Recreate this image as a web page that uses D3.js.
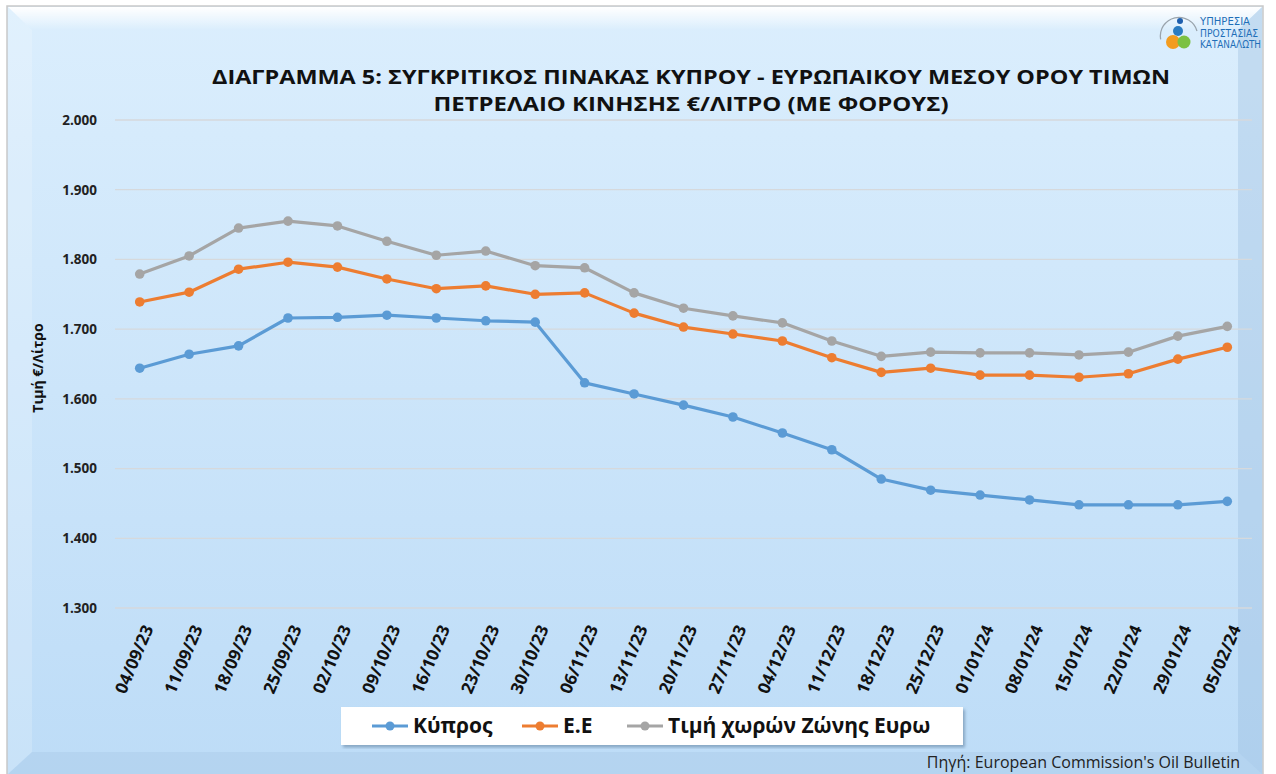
<!DOCTYPE html>
<html>
<head>
<meta charset="utf-8">
<script src="https://cdn.jsdelivr.net/npm/d3@7"></script>
<style>
  body { margin: 0; background: #ffffff; }
  svg { display: block; font-family: "Open Sans", "Liberation Sans", sans-serif; }
</style>
</head>
<body>
<svg id="chart" width="1276" height="774"></svg>
<script>
// data
var dates = ["04/09/23", "11/09/23", "18/09/23", "25/09/23", "02/10/23", "09/10/23", "16/10/23",
    "23/10/23", "30/10/23", "06/11/23", "13/11/23", "20/11/23", "27/11/23", "04/12/23", "11/12/23",
    "18/12/23", "25/12/23", "01/01/24", "08/01/24", "15/01/24", "22/01/24", "29/01/24", "05/02/24"];
var cyprus = [1.644, 1.664, 1.676, 1.716, 1.717, 1.720, 1.716, 1.712, 1.710, 1.623, 1.607, 1.591,
    1.574, 1.551, 1.527, 1.485, 1.469, 1.462, 1.455, 1.448, 1.448, 1.448, 1.453];
var eu = [1.739, 1.753, 1.786, 1.796, 1.789, 1.772, 1.758, 1.762, 1.750, 1.752, 1.723, 1.703,
    1.693, 1.683, 1.659, 1.638, 1.644, 1.634, 1.634, 1.631, 1.636, 1.657, 1.674];
var euroZone = [1.779, 1.805, 1.845, 1.855, 1.848, 1.826, 1.806, 1.812, 1.791, 1.788, 1.752, 1.730,
    1.719, 1.709, 1.683, 1.661, 1.667, 1.666, 1.666, 1.663, 1.667, 1.690, 1.704];
var seriesNames = ["Κύπρος", "Ε.Ε", "Τιμή χωρών Ζώνης Ευρω"];
var seriesColors = ["#5b9bd5", "#ed7d31", "#a5a5a5"];
var yTicks = [1.3, 1.4, 1.5, 1.6, 1.7, 1.8, 1.9, 2.0];

var svg = d3.select("#chart");
var defs = svg.append("defs");

// background panel
var bg = defs.append("linearGradient").attr("id", "bgGrad").attr("x1", 0).attr("y1", 0).attr("x2", 0).attr("y2", 1);
bg.append("stop").attr("offset", "0%").attr("stop-color", "#dbeefd");
bg.append("stop").attr("offset", "100%").attr("stop-color", "#bddcf7");
var topBev = defs.append("linearGradient").attr("id", "topBev").attr("x1", 0).attr("y1", 0).attr("x2", 0).attr("y2", 1);
topBev.append("stop").attr("offset", "0%").attr("stop-color", "#ffffff").attr("stop-opacity", 1);
topBev.append("stop").attr("offset", "100%").attr("stop-color", "#ffffff").attr("stop-opacity", 0);

svg.append("rect").attr("x", 7).attr("y", 6).attr("width", 1256).attr("height", 770)
    .attr("fill", "url(#bgGrad)").attr("stroke", "#c9c9c9").attr("stroke-width", 1.5);
// bevels
svg.append("polygon").attr("points", "8,7 1262,7 1238,30 32,30").attr("fill", "url(#topBev)");
svg.append("polygon").attr("points", "8,7 32,30 32,752 8,774").attr("fill", "#ffffff").attr("opacity", 0.18);
svg.append("polygon").attr("points", "1262,7 1238,30 1238,752 1262,774").attr("fill", "#8fb4d6").attr("opacity", 0.3);
svg.append("polygon").attr("points", "32,752 1238,752 1262,774 8,774").attr("fill", "#8fb4d6").attr("opacity", 0.2);

// scales
var x = d3.scalePoint().domain(dates).range([115, 1252]).padding(0.5);
var y = d3.scaleLinear().domain([1.3, 2.0]).range([608, 120]);

// gridlines
svg.append("g").selectAll("line").data(yTicks).join("line")
    .attr("x1", 115).attr("x2", 1252)
    .attr("y1", function(d) { return y(d); }).attr("y2", function(d) { return y(d); })
    .attr("stroke", "#d6d9dc").attr("stroke-width", 1.3);

// y axis
var yAxis = svg.append("g").attr("transform", "translate(97,0)")
    .call(d3.axisLeft(y).tickValues(yTicks).tickSize(0).tickPadding(0)
        .tickFormat(function(d) { return d3.format(".3f")(d); }));
yAxis.select(".domain").remove();
yAxis.selectAll("text").attr("font-size", 13.5).attr("font-weight", "bold").attr("fill", "#222")
    .attr("font-family", "Open Sans, sans-serif");

svg.append("text").attr("transform", "translate(43,368) rotate(-90)")
    .attr("text-anchor", "middle").attr("font-size", 14).attr("font-weight", "bold").attr("fill", "#111")
    .text("Τιμή €/Λίτρο");

// x axis
var xAxis = svg.append("g").attr("transform", "translate(0,622)")
    .call(d3.axisBottom(x).tickSize(0).tickPadding(0));
xAxis.select(".domain").remove();
xAxis.selectAll("text")
    .attr("font-size", 17).attr("font-weight", "bold").attr("fill", "#111")
    .attr("font-family", "Open Sans, sans-serif")
    .attr("text-anchor", "end").attr("dy", "0.35em")
    .attr("transform", "translate(8,4) rotate(-67)");

// series
var allSeries = [cyprus, eu, euroZone];
var line = d3.line().x(function(d, i) { return x(dates[i]); }).y(function(d) { return y(d); });
allSeries.forEach(function(vals, k) {
    var g = svg.append("g");
    g.append("path").datum(vals).attr("d", line)
        .attr("fill", "none").attr("stroke", seriesColors[k]).attr("stroke-width", 3.2)
        .attr("stroke-linejoin", "round");
    g.selectAll("circle").data(vals).join("circle")
        .attr("cx", function(d, i) { return x(dates[i]); })
        .attr("cy", function(d) { return y(d); })
        .attr("r", 4.8).attr("fill", seriesColors[k]);
});

// title
var title = svg.append("g").attr("font-weight", "bold").attr("fill", "#111").attr("text-anchor", "middle");
title.append("text").attr("x", 691).attr("y", 84).attr("font-size", 20)
    .attr("textLength", 958).attr("lengthAdjust", "spacingAndGlyphs")
    .text("ΔΙΑΓΡΑΜΜΑ 5: ΣΥΓΚΡΙΤΙΚΟΣ ΠΙΝΑΚΑΣ ΚΥΠΡΟΥ - ΕΥΡΩΠΑΙΚΟΥ ΜΕΣΟΥ ΟΡΟΥ ΤΙΜΩΝ");
title.append("text").attr("x", 691).attr("y", 111).attr("font-size", 20)
    .attr("textLength", 515).attr("lengthAdjust", "spacingAndGlyphs")
    .text("ΠΕΤΡΕΛΑΙΟ ΚΙΝΗΣΗΣ €/ΛΙΤΡΟ (ΜΕ ΦΟΡΟΥΣ)");

// legend
defs.append("filter").attr("id", "shadow").append("feDropShadow")
    .attr("dx", 2).attr("dy", 2.5).attr("stdDeviation", 1.8).attr("flood-color", "#5a7a98").attr("flood-opacity", 0.55);
svg.append("rect").attr("x", 341).attr("y", 707).attr("width", 622).attr("height", 38)
    .attr("fill", "#ffffff").attr("filter", "url(#shadow)");
var legendX = [372, 522, 627];
var legend = svg.append("g").selectAll("g").data(seriesNames).join("g")
    .attr("transform", function(d, i) { return "translate(" + legendX[i] + ",726)"; });
legend.append("line").attr("x1", 0).attr("x2", 36).attr("y1", 0).attr("y2", 0)
    .attr("stroke", function(d, i) { return seriesColors[i]; }).attr("stroke-width", 3.2);
legend.append("circle").attr("cx", 18).attr("cy", 0).attr("r", 4.5)
    .attr("fill", function(d, i) { return seriesColors[i]; });
legend.append("text").attr("x", 41).attr("y", 0).attr("dy", "0.35em")
    .attr("font-size", 21).attr("font-weight", "bold").attr("fill", "#111")
    .text(function(d) { return d; });

// source note
svg.append("text").attr("x", 1240).attr("y", 768).attr("text-anchor", "end")
    .attr("font-size", 16).attr("fill", "#222")
    .text("Πηγή: European Commission's Oil Bulletin");

// logo
var logo = svg.append("g").attr("transform", "translate(1179,36)");
logo.append("path").attr("d", d3.arc()({innerRadius: 18, outerRadius: 19.3, startAngle: -1.75, endAngle: 1.3}))
    .attr("fill", "#9aa4ad");
logo.append("circle").attr("cx", -6).attr("cy", 6).attr("r", 7).attr("fill", "#f39c1f");
logo.append("circle").attr("cx", 5).attr("cy", 6).attr("r", 6.5).attr("fill", "#7cc142");
logo.append("circle").attr("cx", -1).attr("cy", -5).attr("r", 5).attr("fill", "#2b7cc1");
logo.append("circle").attr("cx", 1).attr("cy", -15).attr("r", 3).attr("fill", "#1f5fae");
var logoText = svg.append("g").attr("fill", "#1f6fb8").attr("font-size", 11)
    .attr("font-family", "DejaVu Sans Condensed, DejaVu Sans, sans-serif");
["ΥΠΗΡΕΣΙΑ", "ΠΡΟΣΤΑΣΙΑΣ", "ΚΑΤΑΝΑΛΩΤΗ"].forEach(function(t, i) {
    logoText.append("text").attr("x", 1200).attr("y", 25 + i * 11.5)
        .attr("textLength", [50, 58, 61][i]).attr("lengthAdjust", "spacingAndGlyphs").text(t);
});
</script>
</body>
</html>
